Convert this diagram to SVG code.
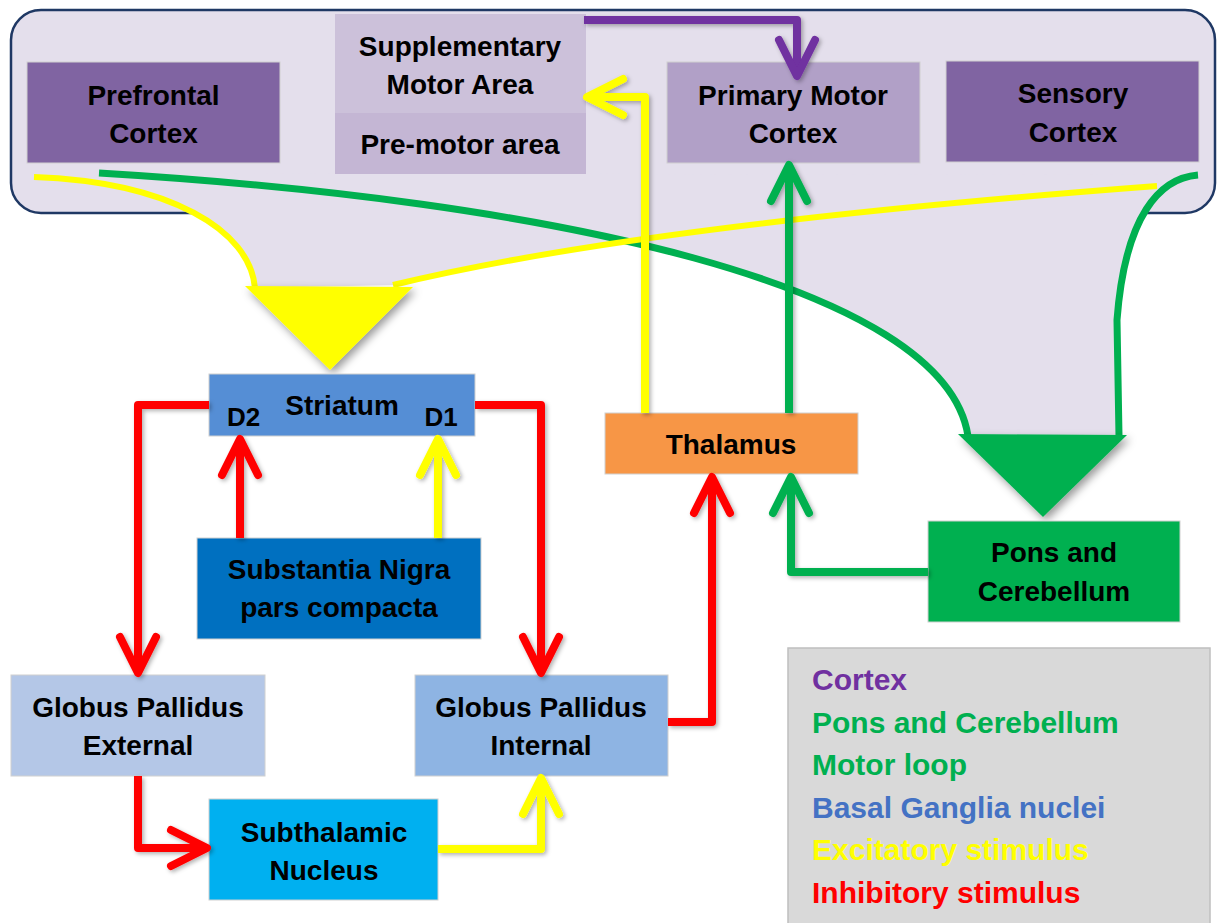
<svg xmlns="http://www.w3.org/2000/svg" width="1221" height="923" viewBox="0 0 1221 923">
  <defs>
    <style>
      .lbl { font-family: "Liberation Sans", Arial, sans-serif; font-weight: bold; font-size: 28px; fill: #000; text-anchor: middle; }
      .sm { font-size: 26px; }
      .leg { font-family: "Liberation Sans", Arial, sans-serif; font-weight: bold; font-size: 30px; }
      .box { stroke: #d0d0d0; stroke-width: 1; }
      .ln { fill: none; stroke-width: 8; stroke-linejoin: round; stroke-linecap: butt; }
      .red { stroke: #ff0000; }
      .yel { stroke: #ffff00; }
      .grn { stroke: #00b050; }
      .pur { stroke: #7030a0; }
      .curve { fill: none; stroke-linecap: butt; }
    </style>
    <filter id="lineShadow" filterUnits="userSpaceOnUse" x="0" y="0" width="1221" height="923">
      <feDropShadow dx="2" dy="2" stdDeviation="2" flood-color="#000" flood-opacity="0.3"/>
    </filter>
    <filter id="headShadow" filterUnits="userSpaceOnUse" x="0" y="0" width="1221" height="923">
      <feDropShadow dx="3" dy="4" stdDeviation="4" flood-color="#000" flood-opacity="0.4"/>
    </filter>
    <marker id="ah-red" markerUnits="userSpaceOnUse" orient="auto" markerWidth="60" markerHeight="60" viewBox="-50 -30 60 60" refX="0" refY="0" overflow="visible">
      <path d="M-36,-18 L0,0 L-36,18" fill="none" stroke="#ff0000" stroke-width="8" stroke-linecap="round" stroke-linejoin="round"/>
    </marker>
    <marker id="ah-yel" markerUnits="userSpaceOnUse" orient="auto" markerWidth="60" markerHeight="60" viewBox="-50 -30 60 60" refX="0" refY="0" overflow="visible">
      <path d="M-36,-18 L0,0 L-36,18" fill="none" stroke="#ffff00" stroke-width="8" stroke-linecap="round" stroke-linejoin="round"/>
    </marker>
    <marker id="ah-grn" markerUnits="userSpaceOnUse" orient="auto" markerWidth="60" markerHeight="60" viewBox="-50 -30 60 60" refX="0" refY="0" overflow="visible">
      <path d="M-36,-18 L0,0 L-36,18" fill="none" stroke="#00b050" stroke-width="8" stroke-linecap="round" stroke-linejoin="round"/>
    </marker>
    <marker id="ah-pur" markerUnits="userSpaceOnUse" orient="auto" markerWidth="60" markerHeight="60" viewBox="-50 -30 60 60" refX="0" refY="0" overflow="visible">
      <path d="M-36,-18 L0,0 L-36,18" fill="none" stroke="#7030a0" stroke-width="8" stroke-linecap="round" stroke-linejoin="round"/>
    </marker>
  </defs>

  <rect width="1221" height="923" fill="#ffffff"/>

  <!-- cortical band -->
  <g id="cortex-area">
    <rect x="11" y="10" width="1204" height="203" rx="30" ry="30" fill="#e4dfec" stroke="#1f3864" stroke-width="2.5"/>
  </g>

  <!-- broad projections: cortex to striatum, cortex to pons -->
  <g id="projections">
    <path d="M34,177 C170,182 250,230 255,288 L393,285 Q640,225 1157,186 Z" fill="#e4dfec"/>
    <path d="M99,173 C550,200 945,285 968,435 L1119,435 L1117,320 C1125,215 1160,178 1198,175 Z" fill="#e4dfec"/>
    <path class="curve" d="M99,173 C550,200 945,285 968,436" stroke="#00b050" stroke-width="7"/>
    <path class="curve" d="M1198,175 C1160,178 1125,215 1117,320 L1119,436" stroke="#00b050" stroke-width="7"/>
    <path class="curve" d="M34,177 C170,182 250,230 255,288" stroke="#ffff00" stroke-width="6"/>
    <path class="curve" d="M393,285 Q640,225 1157,186" stroke="#ffff00" stroke-width="6"/>
    <path d="M245,286 L413,287 L330,370 Z" fill="#ffff00" filter="url(#headShadow)"/>
    <path d="M958,434 L1127,435 L1043,517 Z" fill="#00b050" filter="url(#headShadow)"/>
  </g>

  <g id="prefrontal-cortex">
    <rect class="box" x="27" y="62" width="253" height="101" fill="#8064a2"/>
    <text class="lbl" x="153.5" y="105">Prefrontal</text>
    <text class="lbl" x="153.5" y="143">Cortex</text>
  </g>

  <g id="supplementary-motor-area">
    <rect x="335" y="14" width="251" height="99" fill="#ccc1da"/>
    <text class="lbl" x="460" y="56">Supplementary</text>
    <text class="lbl" x="460" y="94">Motor Area</text>
  </g>

  <g id="premotor-area">
    <rect x="335" y="113" width="251" height="61" fill="#c4b6d4"/>
    <text class="lbl" x="460" y="154">Pre-motor area</text>
  </g>

  <g id="primary-motor-cortex">
    <rect class="box" x="667" y="62" width="253" height="101" fill="#b1a0c7"/>
    <text class="lbl" x="793" y="105">Primary Motor</text>
    <text class="lbl" x="793" y="143">Cortex</text>
  </g>

  <g id="sensory-cortex">
    <rect class="box" x="946" y="61" width="253" height="101" fill="#8064a2"/>
    <text class="lbl" x="1073" y="103">Sensory</text>
    <text class="lbl" x="1073" y="142">Cortex</text>
  </g>

  <g id="striatum">
    <rect class="box" x="209" y="374" width="266" height="62" fill="#558ed5"/>
    <text class="lbl" x="342" y="415">Striatum</text>
    <text class="lbl sm" x="243.5" y="426">D2</text>
    <text class="lbl sm" x="441" y="426">D1</text>
  </g>

  <g id="substantia-nigra">
    <rect class="box" x="197" y="538" width="284" height="101" fill="#0070c0"/>
    <text class="lbl" x="339" y="579">Substantia Nigra</text>
    <text class="lbl" x="339" y="617">pars compacta</text>
  </g>

  <g id="globus-pallidus-external">
    <rect class="box" x="11" y="675" width="254" height="101" fill="#b4c7e7"/>
    <text class="lbl" x="138" y="717">Globus Pallidus</text>
    <text class="lbl" x="138" y="755">External</text>
  </g>

  <g id="globus-pallidus-internal">
    <rect class="box" x="415" y="675" width="253" height="101" fill="#8eb4e3"/>
    <text class="lbl" x="541" y="717">Globus Pallidus</text>
    <text class="lbl" x="541" y="755">Internal</text>
  </g>

  <g id="subthalamic-nucleus">
    <rect class="box" x="209" y="799" width="229" height="101" fill="#00b0f0"/>
    <text class="lbl" x="324" y="842">Subthalamic</text>
    <text class="lbl" x="324" y="880">Nucleus</text>
  </g>

  <g id="thalamus">
    <rect class="box" x="605" y="413" width="253" height="61" fill="#f79646"/>
    <text class="lbl" x="731" y="454">Thalamus</text>
  </g>

  <g id="pons-cerebellum">
    <rect class="box" x="928" y="521" width="252" height="101" fill="#00b050"/>
    <text class="lbl" x="1054" y="562">Pons and</text>
    <text class="lbl" x="1054" y="601">Cerebellum</text>
  </g>

  <!-- pathway connectors -->
  <g id="connectors" filter="url(#lineShadow)">
    <path class="ln pur" d="M584,20 H797 V76" marker-end="url(#ah-pur)"/>
    <path class="ln yel" d="M645,413 V97 H587" marker-end="url(#ah-yel)"/>
    <path class="ln grn" d="M789,413 V165" marker-end="url(#ah-grn)"/>
    <path class="ln grn" d="M928,572 H791 V477" marker-end="url(#ah-grn)"/>
    <path class="ln red" d="M668,722 H712 V477" marker-end="url(#ah-red)"/>
    <path class="ln red" d="M209,405 H138 V673" marker-end="url(#ah-red)"/>
    <path class="ln red" d="M475,405 H541 V673" marker-end="url(#ah-red)"/>
    <path class="ln red" d="M240,538 V439" marker-end="url(#ah-red)"/>
    <path class="ln yel" d="M438,538 V439" marker-end="url(#ah-yel)"/>
    <path class="ln red" d="M138,776 V848 H207" marker-end="url(#ah-red)"/>
    <path class="ln yel" d="M438,849 H541 V778" marker-end="url(#ah-yel)"/>
  </g>

  <g id="legend">
    <rect x="788" y="648" width="422" height="282" fill="#d9d9d9" stroke="#bfbfbf" stroke-width="1.5"/>
    <text class="leg" x="812" y="690" fill="#7030a0">Cortex</text>
    <text class="leg" x="812" y="733" fill="#00b050">Pons and Cerebellum</text>
    <text class="leg" x="812" y="775" fill="#00b050">Motor loop</text>
    <text class="leg" x="812" y="818" fill="#4472c4">Basal Ganglia nuclei</text>
    <text class="leg" x="812" y="860" fill="#ffff00">Excitatory stimulus</text>
    <text class="leg" x="812" y="903" fill="#ff0000">Inhibitory stimulus</text>
  </g>
</svg>
